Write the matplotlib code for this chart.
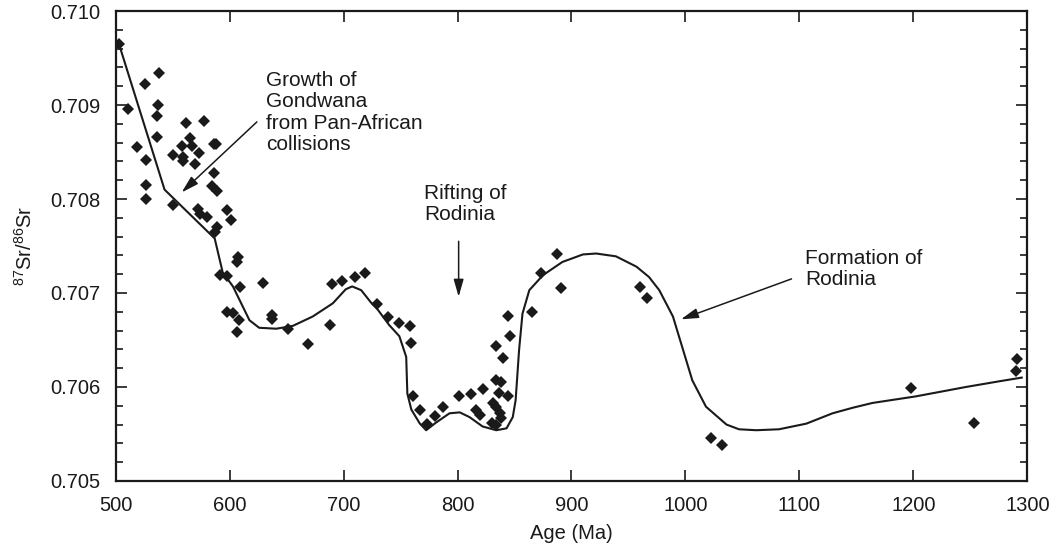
import matplotlib
matplotlib.use("Agg")
import matplotlib.pyplot as plt
from matplotlib.ticker import MultipleLocator

plt.rcParams["font.family"] = ["Liberation Sans", "DejaVu Sans"]
plt.rcParams["mathtext.default"] = "regular"

INK = "#1a1a1a"

# ---------- DATA ----------
# measured samples: age (Ma) and 87Sr/86Sr
age = [503, 511, 519, 526, 527, 527, 527, 536, 536, 537.5, 538,
       550, 550, 558, 559.5, 559, 562, 565, 567, 570, 573, 578, 572, 574, 580,
       586, 588, 586, 585, 589, 589, 587, 597.5, 601, 592, 597.5, 607.5, 606.5,
       609, 629, 598, 603, 608, 607, 637, 637, 651, 669, 688, 690, 699, 710,
       719, 729, 739, 749, 758, 759, 761, 767, 773, 780, 787, 801, 812, 816,
       820, 822, 830, 834, 831, 834, 837, 838, 834, 838, 836, 844, 834, 840,
       846, 844, 865, 873, 887, 891, 960, 966, 1022, 1032, 1198, 1253, 1291,
       1290]
sr = [0.70965, 0.70896, 0.70855, 0.70922, 0.70842, 0.70815, 0.70800, 0.70888,
      0.70866, 0.70900, 0.70934,
      0.70847, 0.70794, 0.70856, 0.70845, 0.70840, 0.70881, 0.70865, 0.70856,
      0.70837, 0.70849, 0.70883, 0.70789, 0.70784, 0.70781,
      0.70859, 0.70859, 0.70828, 0.70814, 0.70808, 0.70770, 0.70765, 0.70788,
      0.70778, 0.70719, 0.70718, 0.70738, 0.70733,
      0.70706, 0.70711, 0.70680, 0.70679, 0.70671, 0.70659, 0.70677, 0.70672,
      0.70662, 0.70646, 0.70666, 0.70710, 0.70713, 0.70717,
      0.70721, 0.70688, 0.70674, 0.70668, 0.70665, 0.70647, 0.70590, 0.70576,
      0.70561, 0.70569, 0.70579, 0.70590, 0.70593, 0.70576,
      0.70570, 0.70598, 0.70562, 0.70560, 0.70583, 0.70579, 0.70572, 0.70567,
      0.70607, 0.70605, 0.70594, 0.70590, 0.70644, 0.70631,
      0.70654, 0.70676, 0.70680, 0.70721, 0.70742, 0.70705, 0.70706, 0.70695,
      0.70546, 0.70538, 0.70599, 0.70562, 0.70630,
      0.70617]

# seawater curve
curve_age = [503, 543, 587, 594, 603, 617.5, 626, 641, 655.5, 673, 690.6,
             702, 707.6, 715.5, 724, 729, 740, 749, 755, 756, 759.5, 767,
             772.5, 781, 793, 802, 810.5, 822, 834, 843, 848.5, 851, 854, 857,
             863, 875, 892, 910, 921.6, 939, 957, 968, 977, 989, 998, 1006,
             1018, 1036, 1047, 1062, 1082, 1106, 1129, 1147, 1164, 1202, 1246,
             1275, 1295]
curve_sr = [0.70965, 0.70810, 0.70758, 0.70722, 0.70707, 0.70671, 0.70663,
            0.70662, 0.70665, 0.70675, 0.70689,
            0.70704, 0.70707, 0.70703, 0.70690, 0.70684, 0.70666, 0.70654,
            0.70632, 0.70593, 0.70576, 0.70561,
            0.70554, 0.70562, 0.70572, 0.70573, 0.70568, 0.70558, 0.70554,
            0.70556, 0.70568, 0.70586, 0.70639, 0.70678,
            0.70703, 0.70719, 0.70733, 0.70741, 0.70742, 0.70739, 0.70728,
            0.70717, 0.70703, 0.70675, 0.70639, 0.70607,
            0.70579, 0.70560, 0.70555, 0.70554, 0.70555, 0.70561, 0.70572,
            0.70578, 0.70583, 0.70590, 0.70600,
            0.70606, 0.70610]

notes = ["Growth of\nGondwana\nfrom Pan-African\ncollisions",
         "Rifting of\nRodinia",
         "Formation of\nRodinia"]

# ---------- PLOT ----------
fig = plt.figure(figsize=(10.55, 5.48), dpi=100)
ax = fig.add_axes([0.1095, 0.1223, 0.8644, 0.8576])

ax.plot(curve_age, curve_sr, color=INK, lw=1.5, zorder=2)
ax.plot(age, sr, linestyle="none", marker="D", ms=6.3, color=INK,
        markeredgewidth=0, zorder=3)

ax.set_xlim(500, 1300)
ax.set_ylim(0.705, 0.710)
ax.xaxis.set_major_locator(MultipleLocator(100))
ax.yaxis.set_major_locator(MultipleLocator(0.001))
ax.yaxis.set_minor_locator(MultipleLocator(0.0002))
ax.yaxis.set_major_formatter(plt.FormatStrFormatter("%.3f"))

ax.tick_params(which="both", direction="in", top=True, right=True,
               colors=INK, labelsize=14.5, width=1.2)
ax.tick_params(which="major", length=8, pad=11)
ax.tick_params(which="minor", length=5)
for s in ax.spines.values():
    s.set_linewidth(1.6)
    s.set_color(INK)

ax.set_xlabel("Age (Ma)", fontsize=14.5, color=INK, labelpad=6)
ax.set_ylabel("$^{87}$Sr/$^{86}$Sr", fontsize=14.5, color=INK, labelpad=10)

# ---------- ANNOTATIONS ----------
txt = dict(fontsize=15, color=INK, ha="left", va="top", linespacing=1.15)
ax.text(632, 0.70936, notes[0], **txt)
ax.text(770.5, 0.70816, notes[1], **txt)
ax.text(1105, 0.70747, notes[2], **txt)

arw = dict(arrowstyle="-|>,head_length=0.7,head_width=0.2", color=INK,
           lw=1.1, shrinkA=0, shrinkB=0, mutation_scale=15)
ax.annotate("", xy=(558, 0.70807), xytext=(624, 0.70882), arrowprops=arw)
ax.annotate("", xy=(801, 0.70696), xytext=(801, 0.70755), arrowprops=arw)
ax.annotate("", xy=(996, 0.70672), xytext=(1093, 0.70715), arrowprops=arw)

fig.savefig("out.png", dpi=100)
